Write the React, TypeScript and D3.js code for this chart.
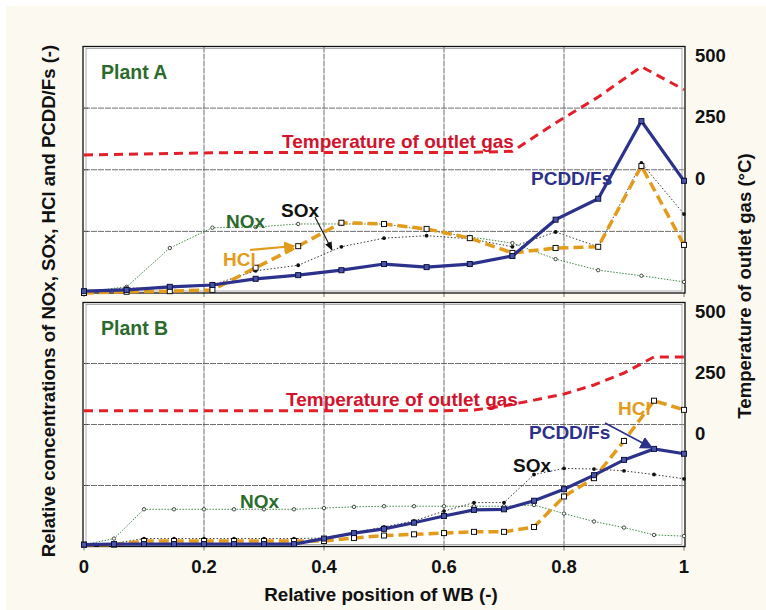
// App.tsx - relative concentrations vs. position of WB, two plants (A / B)
import React from 'react';
import * as d3 from 'd3';

// ---- data ----
// Plant A, sampled at 15 positions along the WB
const posA = [0, 0.071, 0.143, 0.214, 0.286, 0.357, 0.429, 0.5, 0.571, 0.643, 0.714, 0.786, 0.857, 0.929, 1];
const pcddA = [0.03, 0.05, 0.1, 0.13, 0.23, 0.29, 0.37, 0.47, 0.42, 0.47, 0.6, 1.19, 1.53, 2.79, 1.82];
const hclA = [0, 0.02, 0.03, 0.05, 0.41, 0.76, 1.14, 1.12, 1.04, 0.89, 0.65, 0.73, 0.75, 2.06, 0.78];
const soxA = [0.02, 0.08, 0.08, 0.13, 0.36, 0.45, 0.75, 0.89, 0.93, 0.88, 0.75, 0.99, 0.75, 2.11, 1.28];
const noxA = [0.02, 0.1, 0.73, 1.06, 1.07, 1.12, 1.12, 1.12, 1.02, 0.91, 0.81, 0.55, 0.37, 0.28, 0.18];
const tempA = [60, 63, 66, 69, 70, 70, 70, 70, 70, 70, 75, 190, 295, 418, 325];

// Plant B, sampled at 21 positions
const posB = [0, 0.05, 0.1, 0.15, 0.2, 0.25, 0.3, 0.35, 0.4, 0.45, 0.5, 0.55, 0.6, 0.65, 0.7, 0.75, 0.8, 0.85, 0.9, 0.95, 1];
const pcddB = [0.03, 0.04, 0.04, 0.04, 0.04, 0.04, 0.04, 0.04, 0.13, 0.22, 0.29, 0.39, 0.5, 0.6, 0.61, 0.75, 0.94, 1.17, 1.42, 1.6, 1.52];
const hclB = [0.03, 0.03, 0.09, 0.09, 0.09, 0.09, 0.09, 0.09, 0.09, 0.14, 0.18, 0.2, 0.22, 0.24, 0.24, 0.32, 0.82, 1.12, 1.73, 2.39, 2.24];
const soxB = [0.03, 0.05, 0.13, 0.13, 0.13, 0.13, 0.13, 0.13, 0.14, 0.23, 0.32, 0.42, 0.58, 0.72, 0.72, 1.18, 1.28, 1.27, 1.24, 1.18, 1.11];
const noxB = [0.03, 0.13, 0.61, 0.61, 0.61, 0.61, 0.61, 0.61, 0.63, 0.65, 0.66, 0.66, 0.66, 0.66, 0.66, 0.68, 0.54, 0.41, 0.31, 0.19, 0.17];
const tempB = [56, 56, 56, 56, 56, 56, 56, 56, 56, 56, 56, 56, 56, 59, 76, 100, 125, 162, 211, 277, 277];

const xTicks = [0, 0.2, 0.4, 0.6, 0.8, 1];
const xTickLabels = ['0', '0.2', '0.4', '0.6', '0.8', '1'];
const tempTicks = [0, 250, 500];
const concGrid = [1, 2, 3];

// colours
const cTemp = '#e3202a';
const cTempText = '#d3122c';
const cPcdd = '#2c318c';
const cHcl = '#e39b1b';
const cNox = '#2f7a33';
const cPlant = '#2b6b2c';
const FONT = '"Liberation Sans", Arial, Helvetica, sans-serif';

const W = 766;
const H = 610;
const x = d3.scaleLinear().domain([0, 1]).range([84, 684]);

function Panel({top, bottom, pos, pcdd, hcl, sox, nox, temp, name, labels}) {
    const y = d3.scaleLinear().domain([0, 4]).range([bottom, top]);
    const yT = d3.scaleLinear().domain([-500, 500]).range([bottom, top]);
    const line = d3.line().x((d) => x(d[0])).y((d) => y(d[1]));
    const lineT = d3.line().x((d) => x(d[0])).y((d) => yT(d[1]));
    const pts = (arr) => arr.map((v, i) => [pos[i], v]);

    return (
        <g>
            <rect x={x(0)} y={top} width={x(1) - x(0)} height={bottom - top} fill="#fff" />
            {/* grid */}
            {concGrid.map((g) => (
                <line key={'h' + g} x1={x(0)} x2={x(1)} y1={y(g)} y2={y(g)} stroke="#4a4a4a" strokeWidth={0.8} strokeDasharray="6,1" />
            ))}
            {xTicks.slice(1, -1).map((t) => (
                <line key={'v' + t} x1={x(t)} x2={x(t)} y1={top} y2={bottom} stroke="#4a4a4a" strokeWidth={0.8} strokeDasharray="6,1" />
            ))}
            {/* ticks */}
            {xTicks.map((t) => (
                <line key={'xt' + t} x1={x(t)} x2={x(t)} y1={bottom} y2={bottom + 4} stroke="#555" strokeWidth={0.8} />
            ))}
            {concGrid.map((g) => (
                <line key={'lt' + g} x1={x(0)} x2={x(0) + 4} y1={y(g)} y2={y(g)} stroke="#333" strokeWidth={0.8} />
            ))}
            {/* frame */}
            <rect x={x(0) + 2} y={top + 2} width={x(1) - x(0) - 4} height={bottom - top - 4} fill="none" stroke="#9a9a9a" strokeWidth={0.8} />
            <rect x={x(0) - 1} y={top} width={x(1) - x(0) + 2} height={bottom - top} fill="none" stroke="#111" strokeWidth={1.3} />

            {/* labels that sit under the lines */}
            {labels.filter((l) => l.under).map((l, i) => (
                <text key={'u' + i} x={l.x} y={l.y} fill={l.color} fontSize={19} fontWeight="bold" fontFamily={FONT}>{l.text}</text>
            ))}

            {/* right axis labels */}
            {tempTicks.map((t) => (
                <text key={'tt' + t} x={695} y={yT(t) + 15} fontSize={18.5} fontWeight="bold" fontFamily={FONT} fill="#111">{t}</text>
            ))}

            {/* temperature */}
            <path d={lineT(pts(temp))} fill="none" stroke={cTemp} strokeWidth={3} strokeDasharray="9,6" />

            {/* NOx */}
            <path d={line(pts(nox))} fill="none" stroke={cNox} strokeWidth={0.9} strokeDasharray="1.5,1.5" />
            {pts(nox).map((d, i) => (
                <circle key={'n' + i} cx={x(d[0])} cy={y(d[1])} r={1.7} fill="#fff" stroke="#333" strokeWidth={0.9} />
            ))}

            {/* SOx */}
            <path d={line(pts(sox))} fill="none" stroke="#222" strokeWidth={0.9} strokeDasharray="1.5,2" />
            {pts(sox).map((d, i) => (
                <circle key={'s' + i} cx={x(d[0])} cy={y(d[1])} r={1.9} fill="#111" />
            ))}

            {/* HCl */}
            <path d={line(pts(hcl))} fill="none" stroke={cHcl} strokeWidth={3.5} strokeDasharray="10,5" />
            {pts(hcl).map((d, i) => (
                <rect key={'c' + i} x={x(d[0]) - 2.5} y={y(d[1]) - 2.5} width={5} height={5} fill="#fff" stroke="#111" strokeWidth={1} />
            ))}

            {/* PCDD/Fs */}
            <path d={line(pts(pcdd))} fill="none" stroke={cPcdd} strokeWidth={3.2} />
            {pts(pcdd).map((d, i) => (
                <rect key={'p' + i} x={x(d[0]) - 2.5} y={y(d[1]) - 2.5} width={5} height={5} fill="#4a55a8" stroke="#0d1240" strokeWidth={1} />
            ))}

            {/* labels on top */}
            <text x={101} y={top + 32} fill={cPlant} fontSize={19.5} fontWeight="bold" fontFamily={FONT}>{name}</text>
            {labels.filter((l) => !l.under).map((l, i) => (
                <text key={'o' + i} x={l.x} y={l.y} fill={l.color} fontSize={19} fontWeight="bold" fontFamily={FONT}>{l.text}</text>
            ))}
        </g>
    );
}

const labelsA = [
    {text: 'Temperature of outlet gas', x: 282, y: 148, color: cTempText},
    {text: 'PCDD/Fs', x: 531, y: 185, color: cPcdd},
    {text: 'NOx', x: 226, y: 228, color: cPlant},
    {text: 'SOx', x: 281, y: 217, color: '#111'},
    {text: 'HCl', x: 223, y: 266, color: cHcl},
];
const labelsB = [
    {text: 'Temperature of outlet gas', x: 286, y: 406, color: cTempText},
    {text: 'HCl', x: 618, y: 415, color: cHcl, under: true},
    {text: 'PCDD/Fs', x: 529, y: 439, color: cPcdd},
    {text: 'SOx', x: 513, y: 472, color: '#111'},
    {text: 'NOx', x: 240, y: 508, color: cPlant},
];

export default function App() {
    return (
        <svg width={W} height={H} style={{position: 'absolute', left: 0, top: 0}} fontFamily={FONT}>
            <defs>
                <marker id="ahOrange" viewBox="0 0 10 10" refX={9} refY={5} markerWidth={5} markerHeight={5} orient="auto" markerUnits="strokeWidth">
                    <path d="M0,0 L10,5 L0,10 z" fill={cHcl} />
                </marker>
                <marker id="ahBlack" viewBox="0 0 10 10" refX={9} refY={5} markerWidth={8} markerHeight={8} orient="auto" markerUnits="strokeWidth">
                    <path d="M0,1 L10,5 L0,9 z" fill="#111" />
                </marker>
                <marker id="ahNavy" viewBox="0 0 10 10" refX={9} refY={5} markerWidth={8} markerHeight={8} orient="auto" markerUnits="strokeWidth">
                    <path d="M0,0 L10,5 L0,10 z" fill={cPcdd} />
                </marker>
            </defs>
            <rect x={0} y={0} width={W} height={H} fill="#fff" />
            <rect x={6} y={6} width={W - 6} height={H - 6} fill="#fcf9f1" />

            <Panel top={46.5} bottom={293} pos={posA} pcdd={pcddA} hcl={hclA} sox={soxA} nox={noxA} temp={tempA} name="Plant A" labels={labelsA} />
            <Panel top={302.5} bottom={546.5} pos={posB} pcdd={pcddB} hcl={hclB} sox={soxB} nox={noxB} temp={tempB} name="Plant B" labels={labelsB} />

            {/* annotation arrows */}
            <line x1={250} y1={250} x2={294} y2={246} stroke={cHcl} strokeWidth={2.2} markerEnd="url(#ahOrange)" />
            <line x1={315} y1={217} x2={332} y2={250} stroke="#111" strokeWidth={1.1} markerEnd="url(#ahBlack)" />
            <line x1={605} y1={423} x2={652} y2={448} stroke={cPcdd} strokeWidth={1.6} markerEnd="url(#ahNavy)" />

            {/* x axis */}
            {xTicks.map((t, i) => (
                <text key={t} x={x(t)} y={573} textAnchor="middle" fontSize={18.5} fontWeight="bold" fill="#111">{xTickLabels[i]}</text>
            ))}
            <text x={381} y={601} textAnchor="middle" fontSize={18.8} fontWeight="bold" fill="#111">Relative position of WB (-)</text>

            {/* y titles */}
            <text transform="translate(55,301) rotate(-90)" textAnchor="middle" fontSize={18.6} fontWeight="bold" fill="#111">
                Relative concentrations of NOx, SOx, HCl and PCDD/Fs (-)
            </text>
            <text transform="translate(751,286) rotate(-90)" textAnchor="middle" fontSize={18.6} fontWeight="bold" fill="#111">
                Temperature of outlet gas (°C)
            </text>
        </svg>
    );
}
